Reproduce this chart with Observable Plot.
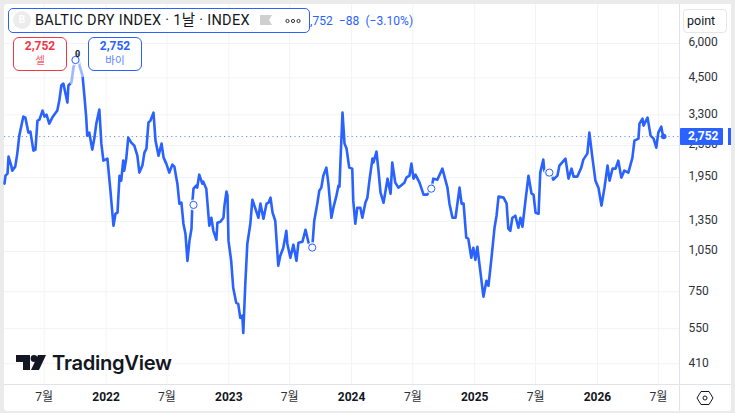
<!DOCTYPE html>
<html><head><meta charset="utf-8">
<script src="https://cdn.jsdelivr.net/npm/d3@7"></script>
<script src="https://cdn.jsdelivr.net/npm/@observablehq/plot@0.6"></script>
<style>
html,body{margin:0;padding:0;background:#ebebeb;width:735px;height:413px;overflow:hidden;font-family:Roboto,"Noto Sans CJK KR",sans-serif}
#panel{position:absolute;left:4px;top:4px;width:727px;height:407px;background:#fff;border-radius:3px}
#chart{position:absolute;left:0;top:0}
.o{position:absolute;box-sizing:border-box;white-space:nowrap}
</style></head><body>
<div id="panel"></div>
<div id="chart"></div>
<div class="o" style="left:4px;top:384px;width:727px;height:1px;background:#e0e3eb"></div>
<div class="o" style="left:679px;top:4px;width:1px;height:407px;background:#e0e3eb"></div>
<div class="o" style="left:680px;top:4px;width:51px;height:33px;background:#fff"></div>
<div class="o" style="left:683px;top:9px;width:44px;height:24px;background:#fff;border:1px solid #e6e6e6;border-radius:4px;font-size:12.5px;line-height:22px;padding-left:3px;color:#131722">point</div>
<div class="o" style="left:8px;top:8px;width:302px;height:25px;background:#fff;border:1px solid #2962ff;border-radius:5px"></div>
<div class="o" style="left:13px;top:11px;width:18px;height:18px;border-radius:50%;background:#ececec;color:#fff;font-size:10px;font-weight:700;line-height:18px;text-align:center">B</div>
<div class="o" style="left:35px;top:11px;font-size:14.5px;line-height:19px;color:#131722;letter-spacing:.3px">BALTIC DRY INDEX · 1날 · INDEX</div>
<svg class="o" style="left:258px;top:14px" width="48" height="13"><path d="M2 1H14L11 6L14 11H2Z" fill="#cfcfcf"/><g fill="none" stroke="#333" stroke-width="1"><circle cx="29.5" cy="7" r="1.6"/><circle cx="35" cy="7" r="1.6"/><circle cx="40.5" cy="7" r="1.6"/></g></svg>
<div class="o" style="left:310px;top:13px;font-size:12px;line-height:16px;color:#2962ff;letter-spacing:.05px">,752&nbsp; −88 &nbsp;(−3.10%)</div>
<div class="o" style="left:13px;top:37px;width:54px;height:34px;background:#fff;border:1px solid #f23645;border-radius:6px;text-align:center;color:#f23645"><div style="font-size:12px;font-weight:700;line-height:15px;margin-top:1px">2,752</div><div style="font-size:10.5px;line-height:14px;opacity:.8">셀</div></div>
<div class="o" style="left:88px;top:37px;width:54px;height:34px;background:#fff;border:1px solid #2962ff;border-radius:6px;text-align:center;color:#2962ff"><div style="font-size:12px;font-weight:700;line-height:15px;margin-top:1px">2,752</div><div style="font-size:10.5px;line-height:14px;opacity:.8">바이</div></div>
<div class="o" style="left:680px;top:127.5px;width:43px;height:17px;background:#2962ff;border-radius:1px;color:#fff;font-size:12px;font-weight:700;line-height:17px;padding-left:8px">2,752</div>
<div class="o" style="left:728px;top:127.5px;width:3px;height:17px;background:#2962ff"></div>
<svg class="o" style="left:15px;top:353px" width="32" height="20"><path d="M1 2H15V17H8V9H1Z" fill="#131722"/><circle cx="19" cy="5.5" r="3.4" fill="#131722"/><path d="M23 2H31L24 17H16Z" fill="#131722"/></svg>
<div class="o" style="left:52px;top:350px;font-family:Inter,Roboto,sans-serif;font-size:20.2px;font-weight:600;line-height:26px;color:#131722;letter-spacing:-.3px">TradingView</div>
<svg class="o" style="left:696px;top:390px" width="18" height="16"><path d="M5 1.5H13L17 8L13 14.5H5L1 8Z" fill="none" stroke="#131722" stroke-width="1"/><circle cx="9" cy="8" r="2" fill="none" stroke="#131722" stroke-width="1"/></svg>
<script>
const dayOffsets = [-302,-299,-293,-290,-282,-279,-270,-264,-258,-246,-240,-231,-225,-216,-210,-204,-198,-189,-183,-177,-169,-160,-145,-139,-133,-127,-115,-112,-103,-97,-91,-85,-79,-70,-64,-59,-56,-50,-41,-35,-29,-20,-14,-8,4,13,22,28,34,40,45,51,54,60,66,75,84,93,99,108,114,120,126,132,141,147,156,165,171,179,188,197,203,212,218,224,230,236,242,248,254,257,260,268,271,277,286,289,298,307,313,319,328,331,340,349,352,358,361,364,372,378,387,393,399,405,408,414,420,429,435,444,453,459,468,477,483,489,495,503,512,518,527,536,539,548,557,566,572,584,593,602,613,619,628,634,640,646,655,661,670,676,685,691,694,697,703,709,715,723,732,735,741,747,756,762,771,777,783,792,795,804,810,816,825,837,846,851,860,869,887,893,902,908,914,920,932,944,955,967,973,985,1000,1015,1021,1030,1039,1051,1057,1063,1071,1077,1086,1092,1098,1104,1110,1122,1131,1137,1146,1155,1161,1167,1182,1191,1196,1202,1208,1217,1226,1232,1238,1247,1256,1265,1271,1277,1286,1291,1300,1303,1312,1321,1330,1342,1348,1366,1375,1384,1390,1401,1413,1419,1431,1437,1446,1455,1464,1473,1482,1491,1497,1506,1515,1523,1532,1541,1553,1565,1571,1583,1586,1595,1598,1610,1619,1628,1636,1642,1651,1654,1658];
const values = [1854,1982,2016,2326,2157,2068,2139,2385,2773,3253,3226,2844,2868,2445,2466,3146,3172,3420,3253,3308,3067,3226,3420,3720,4219,4290,3658,4219,4326,4906,5159,5470,4989,4587,3815,3226,2773,2844,2466,2704,3067,3449,2593,2249,2287,1748,1303,1441,1454,1982,1901,2249,2068,2287,2727,2615,2550,2345,2034,2157,2405,2487,3094,3146,3363,2659,2345,2593,2306,2193,2034,2175,2139,1854,1568,1581,1325,1219,971,1150,1271,1608,1778,1823,1793,1999,1854,1885,1778,1303,1393,1249,1159,1336,1347,1393,1542,1734,1677,1150,971,775,683,677,602,613,531,801,1121,1325,1621,1504,1393,1568,1382,1568,1581,1649,1454,1359,932,1013,1084,1249,1121,996,1112,971,1130,1140,1260,1130,1084,1359,1568,1748,1793,1982,2121,1854,1393,1516,1677,1823,1808,2249,3363,2593,2487,2121,2103,1608,1325,1516,1516,1393,1581,1649,1901,2287,2212,2425,2068,1719,1581,1933,1705,2212,1869,1793,1869,1950,1982,2193,1933,1999,1869,1691,1691,1778,1933,1917,2103,1793,1568,1393,1393,1793,1568,1568,1179,1169,996,1084,979,1093,948,719,821,788,996,1281,1417,1663,1649,1568,1271,1249,1393,1417,1281,1393,1292,1608,1982,1705,1691,1454,1441,2034,2268,2068,1982,2034,1917,1982,2157,2287,1933,2103,1966,1966,2121,2268,2385,2844,2306,1901,1793,1542,1793,2157,1901,2103,2103,2249,1950,2068,2034,2306,2659,2704,3067,3199,3016,3226,2773,2704,2507,2844,2991,2840,2752];
const markerDays = [-91,260,613,967,1318];
const markerValues = [5225,1552,1085,1778,2034];
const priceTicks = [410,550,750,1050,1350,1950,2550,3300,4500,6000];
const monthTicks = ["2021-07-01","2022-07-01","2023-07-01","2024-07-01","2025-07-01","2026-07-01"];
const yearTicks = ["2022-01-01","2023-01-01","2024-01-01","2025-01-01","2026-01-01"];
const lastValue = 2752;

const base = Date.UTC(2022,0,1);
const toDate = d => new Date(base + d*864e5);
const series = dayOffsets.map((d,i)=>({date:toDate(d),value:values[i]}));
const fadeSpan = series.filter(p=>p.date>=toDate(-103)&&p.date<=toDate(-66));
const markers = markerDays.map((d,i)=>({date:toDate(d),value:markerValues[i]}));
const months = monthTicks.map(s=>new Date(s));
const years = yearTicks.map(s=>new Date(s));
const font = 'Roboto,"Noto Sans CJK KR",sans-serif';

const plot = Plot.plot({
  width:735,height:413,
  marginLeft:4,marginRight:56,marginTop:4,marginBottom:29,
  style:{background:"transparent",fontFamily:font,overflow:"visible"},
  x:{type:"utc",domain:[toDate(-302),toDate(1705)]},
  y:{type:"log",domain:[344.5,8320]},
  marks:[
    Plot.ruleX([...months,...years],{stroke:"#f2f3f5",strokeWidth:1}),
    Plot.ruleY(priceTicks,{stroke:"#f2f3f5",strokeWidth:1}),
    Plot.ruleY([lastValue],{stroke:"#2962ff",strokeDasharray:"1.2 3.2",strokeWidth:1,strokeOpacity:.7}),
    Plot.line(series,{x:"date",y:"value",stroke:"#2962ff",strokeWidth:2.6,strokeLinejoin:"round",strokeLinecap:"round",curve:"linear"}),
    Plot.line(fadeSpan,{x:"date",y:"value",stroke:"#fff",strokeWidth:3.4,strokeOpacity:.55}),
    Plot.dot(markers,{x:"date",y:"value",r:5.5,fill:"#fff",fillOpacity:.8}),
    Plot.dot(markers,{x:"date",y:"value",r:3.6,fill:"#fff",stroke:"#2962ff",strokeWidth:1}),
    Plot.dot([series[series.length-1]],{x:"date",y:"value",r:2.8,fill:"#2962ff"}),
    Plot.text([{date:toDate(-85),value:5470}],{x:"date",y:"value",text:()=>"0",fill:"#131722",fontSize:9,fontWeight:700}),
    Plot.axisY(priceTicks,{anchor:"right",tickSize:0,tickPadding:9,tickFormat:d3.format(","),label:null,fontSize:12,fill:"#2e3238",dy:-1}),
    Plot.axisX(months,{anchor:"bottom",tickSize:0,tickPadding:8,tickFormat:()=>"7월",label:null,fontSize:12,fill:"#2e3238"}),
    Plot.axisX(years,{anchor:"bottom",tickSize:0,tickPadding:8,tickFormat:d3.utcFormat("%Y"),label:null,fontSize:12,fontWeight:700,fill:"#131722"})
  ]
});
document.getElementById("chart").append(plot);
</script>
</body></html>
